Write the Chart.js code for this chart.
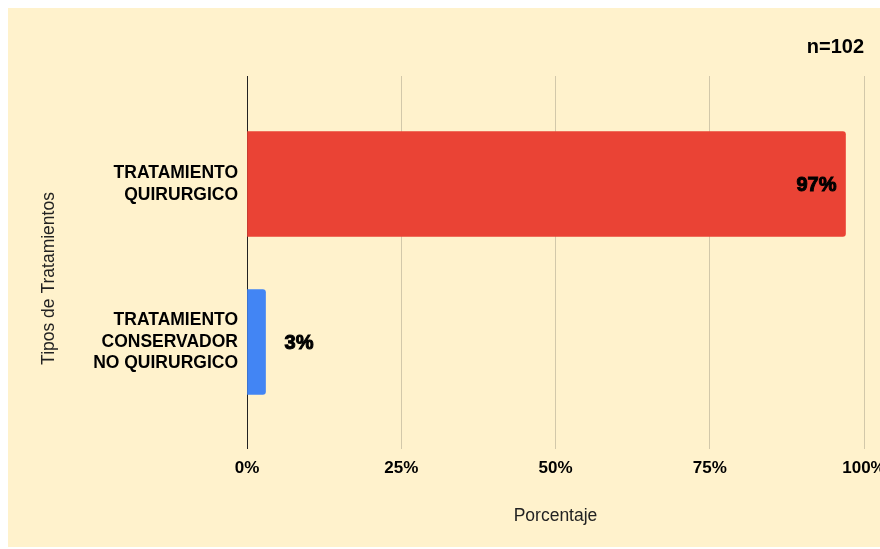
<!DOCTYPE html>
<html>
<head>
<meta charset="utf-8">
<script src="https://cdn.jsdelivr.net/npm/chart.js@4/dist/chart.umd.min.js"></script>
<style>
  html, body { margin: 0; padding: 0; background: #ffffff; width: 880px; height: 549px; overflow: hidden; }
  #frame { position: absolute; left: 8px; top: 8px; width: 872px; height: 539px; background: #fff2cc; overflow: hidden; }
  #chart { display: block; }
</style>
</head>
<body>
<div id="frame"><canvas id="chart" width="900" height="539"></canvas></div>
<script>
// Treatment categories (one entry per bar, split into display lines)
const CATEGORY_LINES = [
  ['TRATAMIENTO', 'QUIRURGICO'],
  ['TRATAMIENTO', 'CONSERVADOR', 'NO QUIRURGICO']
];
// Share of patients per treatment, in percent
const VALUES = [97, 3];
const BAR_COLORS = ['#ea4335', '#4285f4'];
// Horizontal axis ticks
const X_TICKS = [0, 25, 50, 75, 100];
const SAMPLE_LABEL = 'n=102';
const X_TITLE = 'Porcentaje';
const Y_TITLE = 'Tipos de Tratamientos';

const FONT = 'Arial, "Liberation Sans", Helvetica, sans-serif';

// Prints the percentage next to each bar: inside the end of long bars, after short ones
const valueLabels = {
  id: 'valueLabels',
  afterDatasetsDraw(chart) {
    const ctx = chart.ctx;
    const meta = chart.getDatasetMeta(0);
    ctx.save();
    ctx.font = 'bold 20px ' + FONT;
    ctx.fillStyle = '#000';
    ctx.strokeStyle = '#000';
    ctx.lineWidth = 1;
    ctx.textBaseline = 'middle';
    meta.data.forEach((bar, i) => {
      const txt = VALUES[i] + '%';
      let x;
      if (VALUES[i] > 50) { ctx.textAlign = 'right'; x = bar.x - 9; }
      else { ctx.textAlign = 'left'; x = bar.x + 19; }
      ctx.fillText(txt, x, bar.y + 1);
      ctx.strokeText(txt, x, bar.y + 1);
    });
    ctx.restore();
  }
};

// Vertical axis title, set a little below the middle of the plot
const yTitle = {
  id: 'yTitle',
  afterDraw(chart) {
    const ctx = chart.ctx;
    const area = chart.chartArea;
    ctx.save();
    ctx.translate(41, (area.top + area.bottom) / 2 + 16);
    ctx.rotate(-Math.PI / 2);
    ctx.font = '17.5px ' + FONT;
    ctx.fillStyle = '#222';
    ctx.textAlign = 'center';
    ctx.textBaseline = 'middle';
    ctx.fillText(Y_TITLE, 0, 0);
    ctx.restore();
  }
};

new Chart(document.getElementById('chart'), {
  type: 'bar',
  data: {
    datasets: [{
      data: VALUES.map((v, i) => ({ x: v, y: i })),
      backgroundColor: BAR_COLORS,
      borderWidth: 0,
      borderRadius: 3,
      borderSkipped: 'start',
      barThickness: 105
    }]
  },
  options: {
    indexAxis: 'y',
    responsive: false,
    animation: false,
    devicePixelRatio: 1,
    layout: { padding: { left: 27, right: 44, top: 0, bottom: 16 } },
    plugins: {
      legend: { display: false },
      tooltip: { enabled: false },
      title: {
        display: true,
        text: SAMPLE_LABEL,
        align: 'end',
        color: '#000',
        font: { family: FONT, size: 20, weight: 'bold', lineHeight: 1.2 },
        padding: { top: 27, bottom: 17 }
      }
    },
    scales: {
      x: {
        type: 'linear',
        min: 0,
        max: 100,
        afterBuildTicks: (s) => { s.ticks = X_TICKS.map(v => ({ value: v })); },
        afterFit: (s) => { s.height = 82; },
        border: { display: false },
        grid: {
          drawTicks: false,
          color: (c) => (c.tick && c.tick.value === 0) ? '#222222' : '#d2c8aa',
          lineWidth: 1
        },
        ticks: {
          padding: 9,
          color: '#000',
          font: { family: FONT, size: 17, weight: 'bold', lineHeight: 1.2 },
          maxRotation: 0,
          autoSkip: false,
          callback: (v) => v + '%'
        },
        title: {
          display: true,
          text: X_TITLE,
          color: '#222',
          font: { family: FONT, size: 17.5, lineHeight: 1.2 },
          padding: { top: 4, bottom: 4 }
        }
      },
      y: {
        type: 'linear',
        reverse: true,
        offset: false,
        min: -0.6835,
        max: 1.677,
        afterBuildTicks: (s) => { s.ticks = CATEGORY_LINES.map((_, i) => ({ value: i })); },
        afterFit: (s) => { s.width = 212; },
        border: { display: false },
        grid: { display: false, drawTicks: false },
        ticks: {
          padding: 9,
          color: '#000',
          autoSkip: false,
          font: { family: FONT, size: 17.5, weight: 'bold', lineHeight: 1.23 },
          callback: (v) => CATEGORY_LINES[v] || ''
        },
        title: { display: false }
      }
    }
  },
  plugins: [valueLabels, yTitle]
});
</script>
</body>
</html>
